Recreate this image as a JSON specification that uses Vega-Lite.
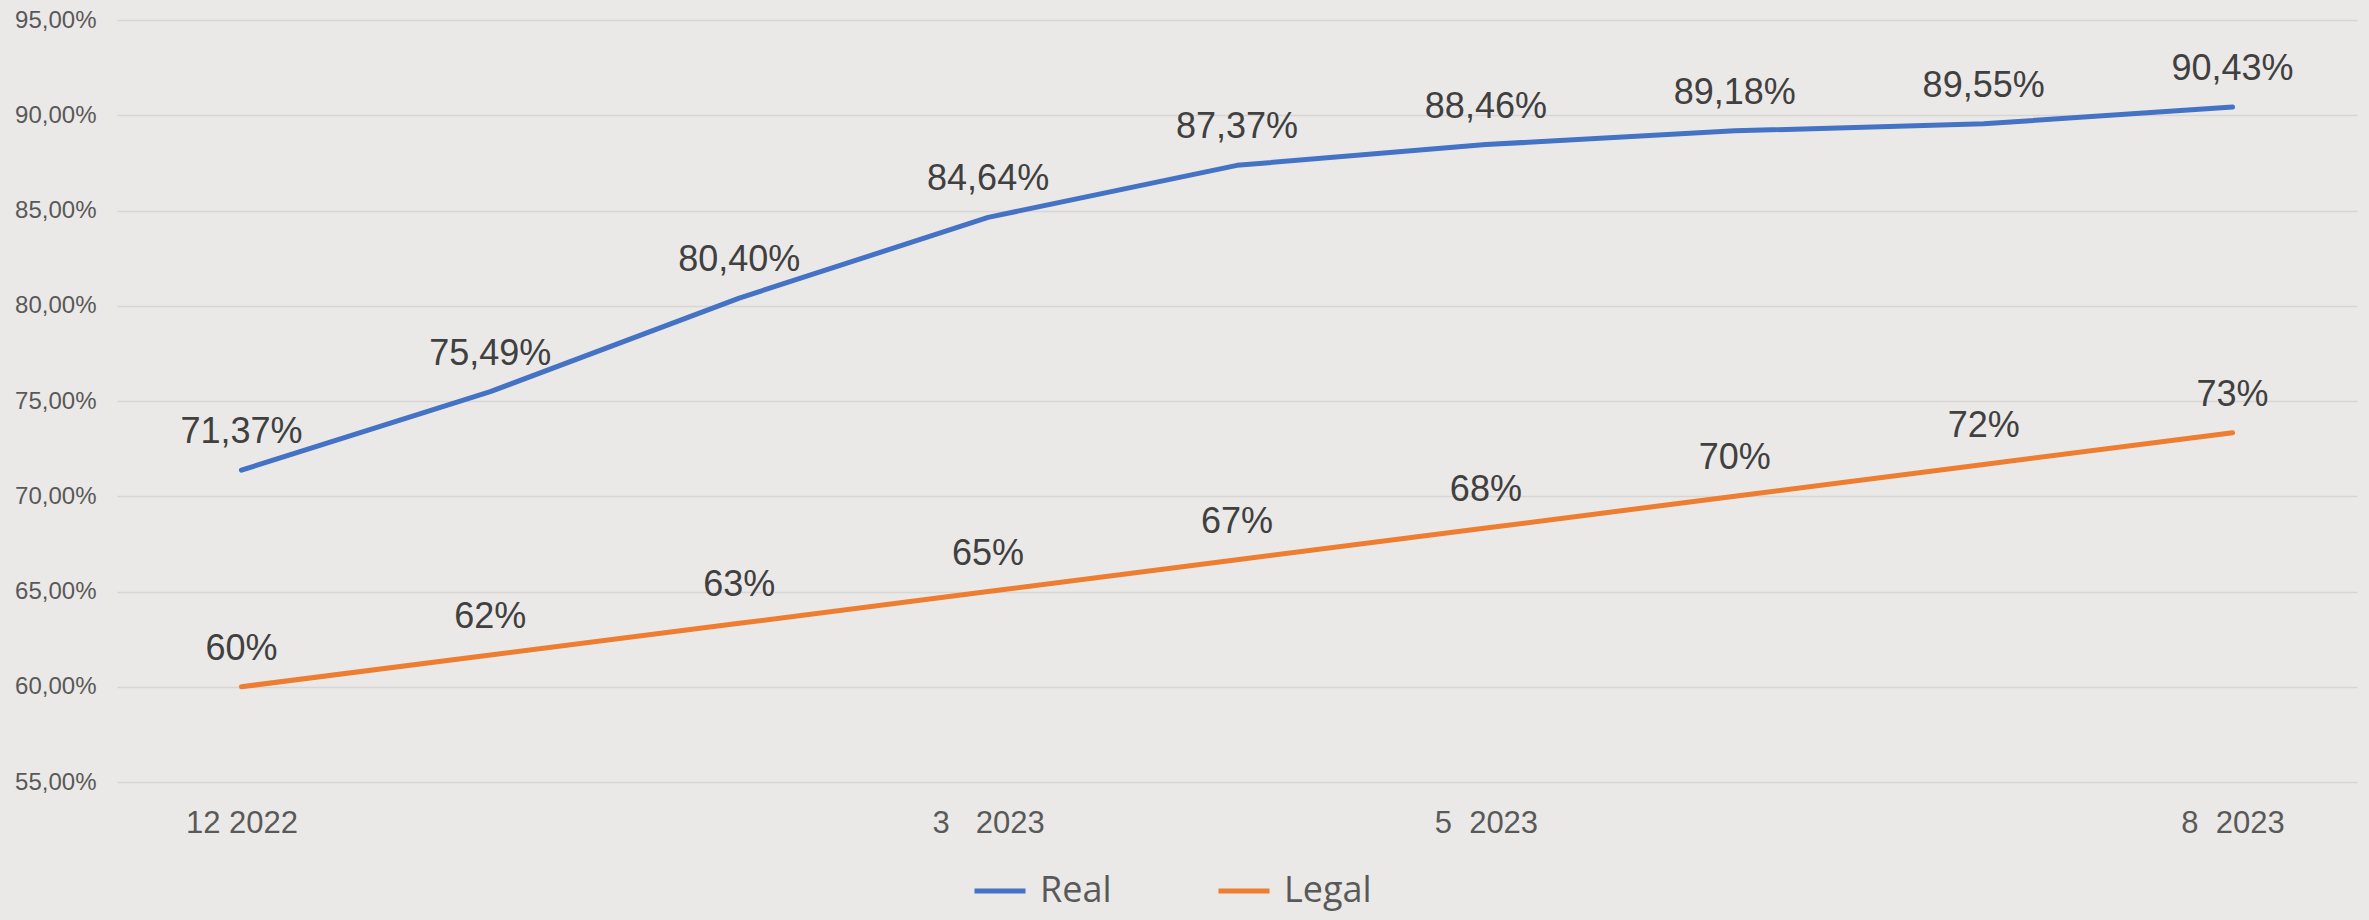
{
  "$schema": "https://vega.github.io/schema/vega-lite/v6.json",
  "width": 2240,
  "height": 762,
  "autosize": {"type": "none"},
  "padding": {"left": 117, "top": 20, "right": 12, "bottom": 138},
  "background": "#EBE9E7",
  "data": {
    "values": [
      {"periodo": "12 2022", "serie": "Real", "valor": 0.7137},
      {"periodo": "1 2023", "serie": "Real", "valor": 0.7549},
      {"periodo": "2 2023", "serie": "Real", "valor": 0.8040},
      {"periodo": "3 2023", "serie": "Real", "valor": 0.8464},
      {"periodo": "4 2023", "serie": "Real", "valor": 0.8737},
      {"periodo": "5 2023", "serie": "Real", "valor": 0.8846},
      {"periodo": "6 2023", "serie": "Real", "valor": 0.8918},
      {"periodo": "7 2023", "serie": "Real", "valor": 0.8955},
      {"periodo": "8 2023", "serie": "Real", "valor": 0.9043},
      {"periodo": "12 2022", "serie": "Legal", "valor": 0.6000},
      {"periodo": "1 2023", "serie": "Legal", "valor": 0.6167},
      {"periodo": "2 2023", "serie": "Legal", "valor": 0.6333},
      {"periodo": "3 2023", "serie": "Legal", "valor": 0.6500},
      {"periodo": "4 2023", "serie": "Legal", "valor": 0.6667},
      {"periodo": "5 2023", "serie": "Legal", "valor": 0.6833},
      {"periodo": "6 2023", "serie": "Legal", "valor": 0.7000},
      {"periodo": "7 2023", "serie": "Legal", "valor": 0.7167},
      {"periodo": "8 2023", "serie": "Legal", "valor": 0.7333}
    ]
  },
  "encoding": {
    "x": {
      "field": "periodo",
      "type": "ordinal",
      "sort": null,
      "scale": {"type": "point", "padding": 0.5},
      "axis": {
        "title": null,
        "values": ["12 2022", "3 2023", "5 2023", "8 2023"],
        "labelExpr": "datum.value == '3 2023' ? '3\u00a0\u00a0\u00a02023' : datum.value == '5 2023' ? '5\u00a0\u00a02023' : datum.value == '8 2023' ? '8\u00a0\u00a02023' : datum.value",
        "domain": false,
        "ticks": false,
        "grid": false,
        "labelAngle": 0,
        "labelPadding": 26,
        "labelFont": "Liberation Sans",
        "labelFontSize": 31,
        "labelColor": "#595959"
      }
    },
    "y": {
      "field": "valor",
      "type": "quantitative",
      "scale": {"domain": [0.55, 0.95], "nice": false, "zero": false},
      "axis": {
        "title": null,
        "values": [0.55, 0.6, 0.65, 0.7, 0.75, 0.8, 0.85, 0.9, 0.95],
        "format": ".2%",
        "domain": false,
        "ticks": false,
        "grid": true,
        "gridColor": "#D7D6D5",
        "gridWidth": 1.5,
        "labelPadding": 21,
        "labelFont": "Liberation Sans",
        "labelFontSize": 24,
        "labelColor": "#595959"
      }
    }
  },
  "layer": [
    {
      "mark": {"type": "line", "strokeWidth": 5, "strokeCap": "round", "strokeJoin": "round"},
      "encoding": {
        "color": {
          "field": "serie",
          "type": "nominal",
          "scale": {"domain": ["Real", "Legal"], "range": ["#4472C4", "#ED7D31"]},
          "legend": {
            "title": null,
            "orient": "none",
            "direction": "horizontal",
            "legendX": 855,
            "legendY": 843,
            "padding": 0,
            "symbolType": "stroke",
            "symbolSize": 2601,
            "symbolStrokeWidth": 5,
            "labelFont": "Open Sans",
            "labelFontSize": 36,
            "labelColor": "#595959",
            "labelOffset": 12,
            "columnPadding": 96
          }
        }
      }
    },
    {
      "transform": [{"filter": "datum.serie == 'Real'"}],
      "mark": {"type": "text", "dy": -38, "baseline": "middle", "align": "center", "font": "Liberation Sans", "fontSize": 36, "color": "#404040"},
      "encoding": {"text": {"field": "valor", "type": "quantitative", "format": ".2%"}}
    },
    {
      "transform": [{"filter": "datum.serie == 'Legal'"}],
      "mark": {"type": "text", "dy": -38, "baseline": "middle", "align": "center", "font": "Liberation Sans", "fontSize": 36, "color": "#404040"},
      "encoding": {"text": {"field": "valor", "type": "quantitative", "format": ".0%"}}
    }
  ],
  "config": {
    "view": {"stroke": null},
    "locale": {"number": {"decimal": ",", "thousands": ".", "grouping": [3], "currency": ["", " €"]}}
  }
}
